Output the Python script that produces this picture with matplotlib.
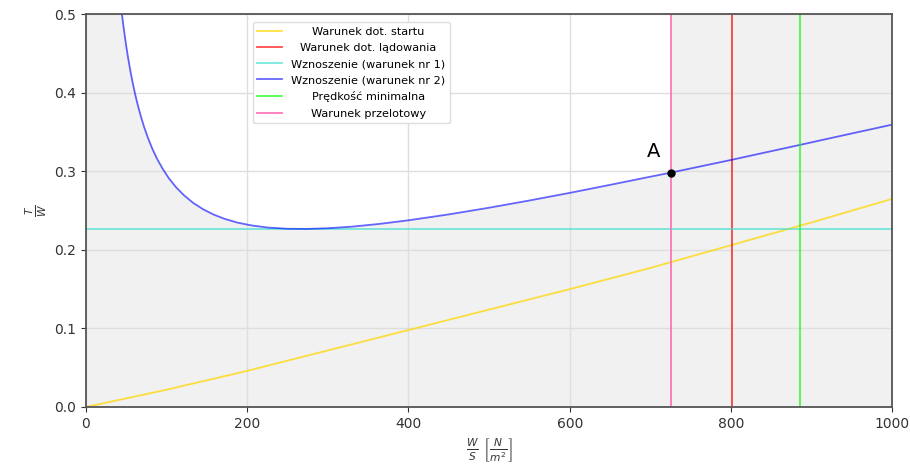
import matplotlib
matplotlib.use("Agg")
from matplotlib import pyplot as plt

# wartosci
ws_start = [0, 100, 200, 300, 400, 500, 600, 700, 800, 900, 1000]
tw_start = [0.0, 0.022, 0.046, 0.072, 0.098, 0.124, 0.150, 0.177, 0.206, 0.235, 0.265]

ws_climb2 = [44.6, 46, 48, 50, 52, 55, 58, 61, 64, 68, 72, 77, 82, 88, 95,
             103, 112, 122, 133, 145, 158, 172, 188, 205, 225, 250, 275, 300,
             330, 365, 400, 450, 500, 550, 600, 650, 700, 726, 800, 886, 950,
             1000]
tw_climb2 = [0.500, 0.4885, 0.4731, 0.4589, 0.4459, 0.4281, 0.4123, 0.3981,
             0.3854, 0.3702, 0.3568, 0.3422, 0.3294, 0.3163, 0.3034, 0.2909,
             0.2794, 0.2691, 0.2598, 0.2519, 0.2451, 0.2395, 0.2347, 0.2312,
             0.2285, 0.2269, 0.2267, 0.2276, 0.2296, 0.2332, 0.2377, 0.2452,
             0.2537, 0.2629, 0.2726, 0.2828, 0.2932, 0.2985, 0.3145, 0.3338,
             0.3483, 0.3595]

tw_climb1 = 0.2265      # Wznoszenie (warunek nr 1)
ws_landing = 801        # Warunek dot. ladowania
ws_vmin = 886           # Predkosc minimalna
ws_cruise = 726         # Warunek przelotowy
point_a = (726, 0.2985)

labels = ["Warunek dot. startu", "Warunek dot. lądowania",
          "Wznoszenie (warunek nr 1)", "Wznoszenie (warunek nr 2)",
          "Prędkość minimalna", "Warunek przelotowy"]

fig, ax = plt.subplots(figsize=(9.1, 4.76), dpi=100)
fig.subplots_adjust(left=0.0945, right=0.9805, top=0.97, bottom=0.145)

gray = "#f1f1f1"
# obszary niedozwolone
ax.fill_between([0] + ws_climb2, 0, [tw_climb2[0]] + tw_climb2,
                color=gray, lw=0, zorder=0.2)
ax.axvspan(ws_cruise, 1000, color=gray, lw=0, zorder=0.2)

lw = 1.3
l1, = ax.plot(ws_start, tw_start, color="gold", alpha=0.75, lw=lw)
l2 = ax.axvline(ws_landing, color="red", alpha=0.7, lw=lw)
l3 = ax.axhline(tw_climb1, color="turquoise", alpha=0.7, lw=lw)
l4, = ax.plot(ws_climb2, tw_climb2, color="blue", alpha=0.6, lw=lw)
l5 = ax.axvline(ws_vmin, color="lime", alpha=0.7, lw=lw)
l6 = ax.axvline(ws_cruise, color="hotpink", alpha=0.9, lw=lw)

ax.plot(*point_a, "o", color="black", ms=5, zorder=5)
ax.annotate("A", point_a, xytext=(-13, 8), textcoords="offset points",
            ha="center", va="bottom", fontsize=14)

ax.set_xlim(0, 1000)
ax.set_ylim(0, 0.5)
ax.set_xticks(range(0, 1001, 200))
ax.set_yticks([0.0, 0.1, 0.2, 0.3, 0.4, 0.5])
ax.set_axisbelow(True)
ax.grid(color="#dedede", lw=1)
for s in ax.spines.values():
    s.set_color("#555555")
    s.set_linewidth(1.3)
ax.tick_params(colors="#333333", labelsize=10)

ax.set_xlabel(r"$\frac{W}{S}\ \left[\frac{N}{m^2}\right]$", fontsize=11, color="#333333")
ax.set_ylabel(r"$\frac{T}{W}$", fontsize=11, color="#333333")

leg = ax.legend([l1, l2, l3, l4, l5, l6], labels, loc="upper left",
                bbox_to_anchor=(0.207, 0.98), borderaxespad=0, fontsize=8.1,
                handlelength=2.2, labelspacing=0.55, framealpha=1,
                edgecolor="#dddddd")

# wysrodkowanie opisow w legendzie
fig.canvas.draw()
r = fig.canvas.get_renderer()
texts = leg.get_texts()
widths = [t.get_window_extent(r).width for t in texts]
wmax = max(widths)
for t, w in zip(texts, widths):
    t.set_x((wmax - w) / 2)

plt.savefig("out.png", dpi=100)
